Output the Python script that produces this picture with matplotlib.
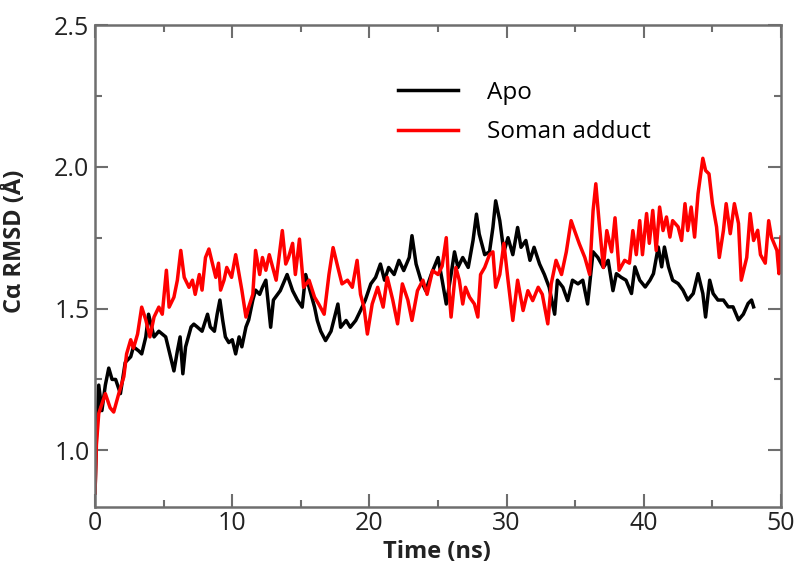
import matplotlib
matplotlib.use("Agg")
import matplotlib.pyplot as plt
from matplotlib.ticker import MultipleLocator

plt.rcParams['font.family'] = ['Open Sans', 'DejaVu Sans']

# Apo trajectory (time in ns, C-alpha RMSD in Angstrom)
apo_t = [0.0, 0.1, 0.27, 0.5, 0.75, 1.0, 1.24, 1.5, 1.85, 2.2, 2.6, 2.8, 3.2, 3.4, 3.7, 3.9,
         4.3, 4.65, 4.9, 5.15, 5.4, 5.75, 6.0, 6.2, 6.4, 6.6, 7.0, 7.2, 7.45, 7.8, 8.2, 8.4,
         8.7, 8.9, 9.1, 9.3, 9.5, 9.75, 10.0, 10.25, 10.5, 10.7, 11.0, 11.2, 11.5, 11.7, 12.0,
         12.2, 12.45, 12.8, 13.0, 13.5, 14.0, 14.4, 14.75, 15.1, 15.35, 15.6, 16.0, 16.2, 16.45,
         16.8, 17.2, 17.7, 17.9, 18.3, 18.6, 19.0, 19.35, 19.7, 20.1, 20.45, 20.8, 21.1, 21.4,
         21.8, 22.15, 22.5, 22.9, 23.1, 23.4, 23.75, 24.1, 24.5, 25.0, 25.3, 25.6, 25.95, 26.2,
         26.45, 26.8, 27.2, 27.55, 27.8, 28.0, 28.4, 28.75, 29.0, 29.2, 29.5, 29.8, 30.1, 30.45,
         30.8, 31.05, 31.4, 31.7, 32.0, 32.4, 32.75, 33.1, 33.5, 33.7, 34.1, 34.45, 34.8, 35.2,
         35.55, 35.9, 36.3, 36.65, 37.05, 37.4, 37.75, 38.0, 38.35, 38.7, 39.1, 39.35, 39.7,
         40.1, 40.45, 40.7, 41.05, 41.3, 41.5, 41.8, 42.1, 42.5, 42.85, 43.2, 43.6, 43.95, 44.3,
         44.5, 44.8, 45.05, 45.4, 45.8, 46.15, 46.5, 46.9, 47.25, 47.6, 47.85, 48.0]
apo_rmsd = [0.85, 1.05, 1.23, 1.14, 1.23, 1.29, 1.25, 1.25, 1.20, 1.31, 1.33, 1.365, 1.35, 1.34,
            1.40, 1.48, 1.40, 1.42, 1.41, 1.40, 1.35, 1.28, 1.35, 1.40, 1.27, 1.365, 1.435, 1.445,
            1.435, 1.42, 1.48, 1.435, 1.42, 1.48, 1.53, 1.46, 1.40, 1.38, 1.39, 1.34, 1.40, 1.365,
            1.435, 1.46, 1.53, 1.565, 1.55, 1.575, 1.60, 1.434, 1.53, 1.563, 1.62, 1.563, 1.53,
            1.505, 1.62, 1.575, 1.505, 1.458, 1.42, 1.387, 1.42, 1.516, 1.434, 1.458, 1.434, 1.458,
            1.493, 1.53, 1.587, 1.61, 1.657, 1.60, 1.645, 1.62, 1.67, 1.634, 1.68, 1.757, 1.657,
            1.60, 1.563, 1.62, 1.68, 1.60, 1.516, 1.62, 1.70, 1.645, 1.68, 1.645, 1.74, 1.833,
            1.763, 1.69, 1.70, 1.786, 1.88, 1.81, 1.70, 1.75, 1.69, 1.786, 1.716, 1.74, 1.67,
            1.716, 1.657, 1.62, 1.575, 1.48, 1.60, 1.575, 1.528, 1.60, 1.587, 1.60, 1.516, 1.70,
            1.68, 1.645, 1.67, 1.563, 1.623, 1.61, 1.60, 1.553, 1.647, 1.60, 1.576, 1.60, 1.623,
            1.717, 1.647, 1.717, 1.647, 1.60, 1.588, 1.565, 1.53, 1.553, 1.623, 1.553, 1.47, 1.60,
            1.553, 1.53, 1.53, 1.506, 1.506, 1.46, 1.48, 1.518, 1.53, 1.506]

# Soman adduct trajectory
soman_t = [0.0, 0.1, 0.27, 0.75, 1.1, 1.36, 1.73, 2.1, 2.3, 2.6, 2.8, 3.1, 3.4, 3.7, 4.0, 4.3,
           4.65, 4.9, 5.2, 5.4, 5.75, 6.0, 6.25, 6.5, 6.85, 7.1, 7.3, 7.6, 7.8, 8.05, 8.3, 8.5,
           8.8, 9.0, 9.15, 9.4, 9.6, 9.95, 10.25, 10.5, 10.7, 11.0, 11.2, 11.5, 11.7, 12.0, 12.2,
           12.45, 12.7, 13.2, 13.65, 13.9, 14.1, 14.4, 14.6, 14.9, 15.2, 15.6, 16.0, 16.3, 16.7,
           17.05, 17.35, 17.7, 18.0, 18.4, 18.75, 19.1, 19.35, 19.6, 19.85, 20.2, 20.6, 21.0,
           21.3, 21.7, 22.05, 22.4, 22.8, 23.1, 23.5, 23.9, 24.2, 24.6, 25.0, 25.3, 25.6, 25.8,
           25.95, 26.3, 26.55, 26.8, 27.0, 27.3, 27.65, 27.9, 28.1, 28.4, 28.75, 29.0, 29.2, 29.5,
           29.8, 30.1, 30.45, 30.8, 31.2, 31.55, 31.9, 32.3, 32.6, 33.0, 33.25, 33.6, 34.0, 34.35,
           34.7, 34.95, 35.3, 35.7, 36.05, 36.3, 36.5, 36.75, 37.05, 37.3, 37.65, 37.9, 38.2,
           38.6, 38.95, 39.2, 39.45, 39.7, 39.9, 40.2, 40.4, 40.65, 40.9, 41.15, 41.4, 41.65,
           41.9, 42.1, 42.5, 42.75, 43.0, 43.2, 43.45, 43.7, 43.95, 44.3, 44.5, 44.75, 45.0, 45.3,
           45.5, 45.8, 46.0, 46.3, 46.6, 46.9, 47.1, 47.5, 47.75, 48.0, 48.3, 48.5, 48.85, 49.1,
           49.3, 49.7, 49.85, 50.0]
soman_rmsd = [0.85, 1.02, 1.13, 1.20, 1.15, 1.135, 1.20, 1.26, 1.34, 1.39, 1.36, 1.41, 1.505,
              1.46, 1.40, 1.47, 1.505, 1.48, 1.635, 1.505, 1.54, 1.60, 1.705, 1.61, 1.575, 1.60,
              1.55, 1.62, 1.565, 1.68, 1.71, 1.67, 1.61, 1.66, 1.565, 1.60, 1.645, 1.61, 1.69,
              1.62, 1.565, 1.47, 1.505, 1.55, 1.705, 1.62, 1.68, 1.635, 1.69, 1.60, 1.775, 1.657,
              1.68, 1.73, 1.62, 1.745, 1.575, 1.60, 1.54, 1.516, 1.48, 1.62, 1.715, 1.645, 1.587,
              1.60, 1.575, 1.67, 1.55, 1.505, 1.41, 1.516, 1.575, 1.505, 1.61, 1.53, 1.446, 1.587,
              1.53, 1.458, 1.563, 1.60, 1.55, 1.634, 1.62, 1.65, 1.75, 1.563, 1.47, 1.645, 1.60,
              1.516, 1.575, 1.54, 1.516, 1.47, 1.62, 1.645, 1.69, 1.70, 1.575, 1.62, 1.73, 1.60,
              1.458, 1.60, 1.493, 1.563, 1.528, 1.575, 1.55, 1.446, 1.587, 1.67, 1.62, 1.70, 1.81,
              1.775, 1.728, 1.68, 1.62, 1.845, 1.94, 1.80, 1.645, 1.775, 1.70, 1.82, 1.635, 1.67,
              1.66, 1.775, 1.69, 1.81, 1.69, 1.835, 1.73, 1.846, 1.705, 1.858, 1.775, 1.823, 1.752,
              1.81, 1.788, 1.74, 1.87, 1.775, 1.858, 1.752, 1.905, 2.03, 1.987, 1.975, 1.87, 1.788,
              1.68, 1.775, 1.87, 1.764, 1.87, 1.80, 1.60, 1.68, 1.835, 1.74, 1.776, 1.69, 1.66,
              1.81, 1.752, 1.705, 1.623, 1.752]

fig = plt.figure(figsize=(7.96, 5.66), dpi=100)
ax = fig.add_axes([0.1194, 0.1042, 0.8618, 0.8516])

ax.plot(apo_t, apo_rmsd, color='black', lw=2.5, label='Apo')
ax.plot(soman_t, soman_rmsd, color='#ff0000', lw=2.5, label='Soman adduct')

ax.set_xlim(0, 50)
ax.set_ylim(0.8, 2.5)
ax.xaxis.set_major_locator(MultipleLocator(10))
ax.xaxis.set_minor_locator(MultipleLocator(5))
ax.yaxis.set_minor_locator(MultipleLocator(0.25))
ax.set_yticks([1.0, 1.5, 2.0, 2.5])
ax.set_yticklabels(['1.0', '1.5', '2.0', '2.5'])

for s in ax.spines.values():
    s.set_color('#6e6e6e')
    s.set_linewidth(1.8)
ax.tick_params(which='both', direction='in', top=True, right=True, color='#6e6e6e',
               labelsize=18, width=1.5, labelcolor='#222222')
ax.tick_params(which='major', length=9.5)
ax.tick_params(which='minor', length=5)
ax.tick_params(axis='x', pad=3)
ax.tick_params(axis='y', pad=4)

ax.set_xlabel('Time (ns)', fontsize=17, fontweight='bold', color='#222222')
ax.xaxis.set_label_coords(0.498, -0.068, transform=ax.transAxes)
ax.xaxis.label.set_va('top')
ax.set_ylabel('Cα RMSD (Å)', fontsize=17, fontweight='bold', color='#222222')
ax.yaxis.set_label_coords(-0.099, 0.552)

ax.legend(frameon=False, loc='upper left', bbox_to_anchor=(0.41, 0.93), fontsize=17.5,
          handlelength=2.45, handletextpad=1.2, labelspacing=0.65)

fig.savefig('out.png', dpi=100)
